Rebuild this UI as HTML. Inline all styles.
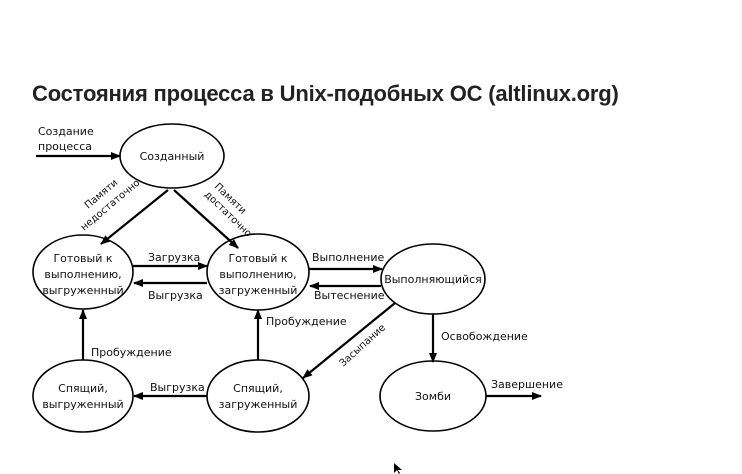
<!DOCTYPE html>
<html><head><meta charset="utf-8"><style>
body{margin:0;background:#fff;width:742px;height:474px;overflow:hidden;font-family:"Liberation Sans","DejaVu Sans",sans-serif}
h1{position:absolute;left:32px;top:81px;margin:0;font-size:22px;font-weight:bold;color:#222;letter-spacing:-0.2px}
</style></head><body>
<h1>Состояния процесса в Unix-подобных ОС (altlinux.org)</h1>
<svg width="742" height="474" style="position:absolute;left:0;top:0" font-family="DejaVu Sans, Liberation Sans, sans-serif" font-size="11" fill="#111">
<defs><marker id="a" markerWidth="10" markerHeight="8" refX="9" refY="4" orient="auto" markerUnits="userSpaceOnUse"><path d="M0,0 L10,4 L0,8z" fill="#000"/></marker></defs>
<g fill="none" stroke="#000" stroke-width="1.6">
<ellipse cx="172" cy="156" rx="52" ry="32"/>
<ellipse cx="83" cy="272" rx="50" ry="37"/>
<ellipse cx="258" cy="272" rx="51" ry="38"/>
<ellipse cx="433" cy="279" rx="52" ry="35"/>
<ellipse cx="83" cy="396" rx="50" ry="36"/>
<ellipse cx="258" cy="396" rx="51" ry="36"/>
<ellipse cx="433" cy="396" rx="53" ry="35"/>
</g>
<g stroke="#000" stroke-width="2.2" marker-end="url(#a)">
<line x1="36" y1="156" x2="120" y2="156"/>
<line x1="168" y1="190" x2="101" y2="244"/>
<line x1="174" y1="190" x2="238" y2="248"/>
<line x1="133" y1="266" x2="207" y2="266"/>
<line x1="207" y1="283" x2="134" y2="283"/>
<line x1="309" y1="269" x2="382" y2="269"/>
<line x1="381" y1="286" x2="310" y2="286"/>
<line x1="83" y1="360" x2="83" y2="310"/>
<line x1="258" y1="360" x2="258" y2="310"/>
<line x1="395" y1="303" x2="303" y2="378"/>
<line x1="433" y1="314" x2="433" y2="362"/>
<line x1="486" y1="396" x2="541" y2="396"/>
<line x1="207" y1="396" x2="134" y2="396"/>
</g>
<g text-anchor="middle">
<text x="172" y="160">Созданный</text>
<text x="83" y="262">Готовый к</text><text x="83" y="278">выполнению,</text><text x="83" y="294">выгруженный</text>
<text x="258" y="262">Готовый к</text><text x="258" y="278">выполнению,</text><text x="258" y="294">загруженный</text>
<text x="433" y="283">Выполняющийся</text>
<text x="83" y="392">Спящий,</text><text x="83" y="408">выгруженный</text>
<text x="258" y="392">Спящий,</text><text x="258" y="408">загруженный</text>
<text x="433" y="400">Зомби</text>
</g>
<text x="38" y="135">Создание</text><text x="38" y="150">процесса</text>
<text x="148" y="261">Загрузка</text><text x="148" y="299">Выгрузка</text>
<text x="312" y="261">Выполнение</text><text x="314" y="299">Вытеснение</text>
<text x="266" y="325">Пробуждение</text>
<text x="91" y="356">Пробуждение</text>
<text x="441" y="340">Освобождение</text>
<text x="491" y="388">Завершение</text>
<text x="150" y="391">Выгрузка</text>
<g font-size="10">
<text transform="translate(88,209) rotate(-40)">Памяти</text>
<text transform="translate(84,231) rotate(-40)">недостаточно</text>
<text transform="translate(214,187) rotate(44)">Памяти</text>
<text transform="translate(204,195) rotate(44)">достаточно</text>
<text transform="translate(343,367) rotate(-42)">Засыпание</text>
</g>
<path d="M394,463 l0,10 l3,-3 l2,4 l1,-1 l-2,-3 l4,0z" fill="#000"/>
</svg>
</body></html>
